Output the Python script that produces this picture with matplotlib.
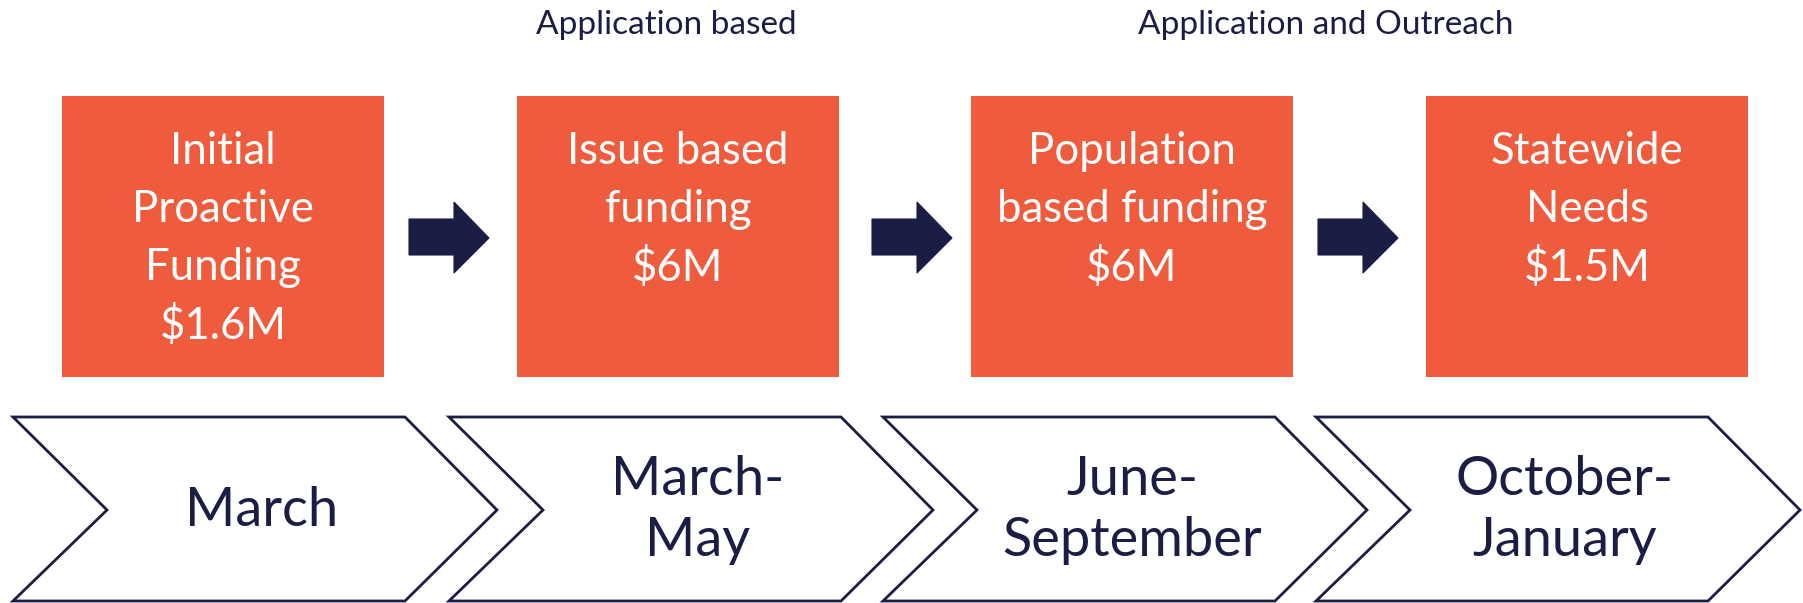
import matplotlib.pyplot as plt
from matplotlib.patches import Polygon, Rectangle

plt.rcParams["font.family"] = ["Lato", "DejaVu Sans"]

# Data
box_lines = [
    ["Initial", "Proactive", "Funding", "$1.6M"],
    ["Issue based", "funding", "$6M"],
    ["Population", "based funding", "$6M"],
    ["Statewide", "Needs", "$1.5M"],
]
periods = ["March", "March-\nMay", "June-\nSeptember", "October-\nJanuary"]
phase_notes = ["Application based", "Application and Outreach"]
note_centers = [666, 1326]

orange = "#EF5B3D"
navy = "#1C1D45"

W, H = 1803, 603
fig = plt.figure(figsize=(W / 100, H / 100), dpi=100)
ax = fig.add_axes([0, 0, 1, 1])
ax.set_xlim(0, W)
ax.set_ylim(H, 0)
ax.axis("off")

# orange boxes
box_left = [62, 517, 971, 1426]
box_w, box_top, box_h = 322, 96, 281
for x0, lines in zip(box_left, box_lines):
    ax.add_patch(Rectangle((x0, box_top), box_w, box_h, color=orange, lw=0))
    for k, line in enumerate(lines):
        ax.text(x0 + box_w / 2, 152 + 58 * k, line, color="white",
                fontsize=31.5, ha="center", va="center")

# arrows between boxes
for x0 in [409, 872, 1318]:
    pts = [(x0, 219), (x0 + 45, 219), (x0 + 45, 202), (x0 + 80, 238),
           (x0 + 45, 273), (x0 + 45, 255), (x0, 255)]
    ax.add_patch(Polygon(pts, closed=True, fc=navy, ec=navy, lw=0.8))

# chevrons
chev_left = [13, 449, 883, 1316]
top, bot, mid = 417, 601, 510
for x0, txt in zip(chev_left, periods):
    pts = [(x0, top), (x0 + 392, top), (x0 + 484, mid), (x0 + 392, bot),
           (x0, bot), (x0 + 94, mid)]
    ax.add_patch(Polygon(pts, closed=True, fc="white", ec=navy, lw=2.0,
                         joinstyle="miter"))
    ax.text(x0 + 249, mid, txt, color=navy, fontsize=39, ha="center",
            va="center", linespacing=1.28)

for xc, note in zip(note_centers, phase_notes):
    ax.text(xc, 25, note, color=navy, fontsize=24, ha="center", va="center")

fig.savefig("out.png", dpi=100)
